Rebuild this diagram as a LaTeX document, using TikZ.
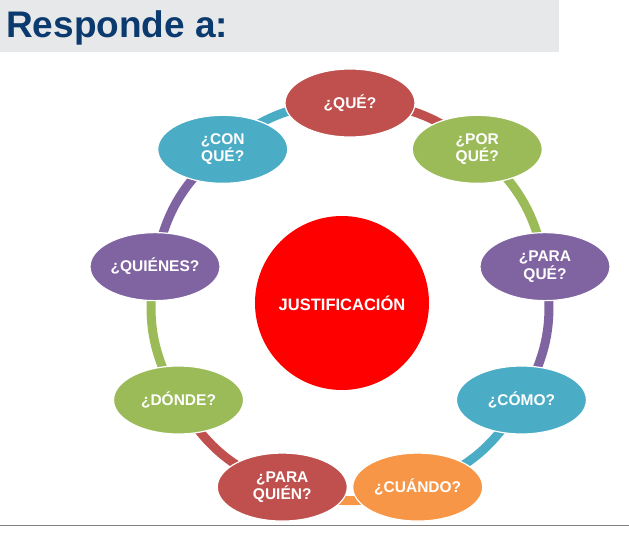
\documentclass[tikz,border=0pt]{standalone}
\usepackage{fontspec}
\setmainfont{Liberation Sans}
\usepackage{xcolor}
\usetikzlibrary{shapes.geometric,backgrounds}
\definecolor{qred}{HTML}{C0504D}
\definecolor{qgreen}{HTML}{9BBB59}
\definecolor{qpurple}{HTML}{8064A2}
\definecolor{qblue}{HTML}{4BACC6}
\definecolor{qorange}{HTML}{F79646}
\definecolor{titlenavy}{HTML}{0B3A6E}
\definecolor{bandgray}{HTML}{E7E8EA}

\begin{document}
\begin{tikzpicture}[
  x=1pt, y=1pt,
  bubble/.style={ellipse, draw=white, line width=1.2pt, minimum width=130pt, minimum height=68pt, inner sep=0pt, align=center, text=white, font=\fontsize{15.5}{12}\selectfont\bfseries},
  hub/.style={circle, fill=red, minimum size=174pt, inner sep=0pt, text=white, font=\fontsize{16.5}{18}\selectfont\bfseries},
  ring/.style={line width=9pt}
]
\useasboundingbox (-350,-249) rectangle (279,301);
\fill[bandgray] (-350,249) rectangle (209,301);
\node[anchor=base west, inner sep=0pt, text=titlenavy, font=\fontsize{37}{42}\selectfont\bfseries] (title) at (-344,264) {Responde a:};
\draw[gray, line width=1pt] (-350,-224) -- (279,-224);

\node[hub] (just) at (-8,-2) {JUSTIFICACIÓN};
\node[bubble, fill=qred] (que) at (90:198) {¿QUÉ?};
\node[bubble, fill=qgreen] (porque) at (50:198) {¿POR\\QUÉ?};
\node[bubble, fill=qpurple] (paraque) at (10:198) {¿PARA\\QUÉ?};
\node[bubble, fill=qblue] (como) at (-30:198) {¿CÓMO?};
\node[bubble, fill=qorange] (cuando) at (-70:198) {¿CUÁNDO?};
\node[bubble, fill=qred] (paraquien) at (-110:198) {¿PARA\\QUIÉN?};
\node[bubble, fill=qgreen] (donde) at (-150:198) {¿DÓNDE?};
\node[bubble, fill=qpurple] (quienes) at (170:198) {¿QUIÉNES?};
\node[bubble, fill=qblue] (conque) at (130:198) {¿CON\\QUÉ?};

\begin{pgfonlayer}{background}
\draw[ring, qred] (que.center) to[bend left=20] (porque.center);
\draw[ring, qgreen] (porque.center) to[bend left=20] (paraque.center);
\draw[ring, qpurple] (paraque.center) to[bend left=20] (como.center);
\draw[ring, qblue] (como.center) to[bend left=20] (cuando.center);
\draw[ring, qorange] (cuando.center) to[bend left=20] (paraquien.center);
\draw[ring, qred] (paraquien.center) to[bend left=20] (donde.center);
\draw[ring, qgreen] (donde.center) to[bend left=20] (quienes.center);
\draw[ring, qpurple] (quienes.center) to[bend left=20] (conque.center);
\draw[ring, qblue] (conque.center) to[bend left=20] (que.center);
\end{pgfonlayer}
\end{tikzpicture}
\end{document}
